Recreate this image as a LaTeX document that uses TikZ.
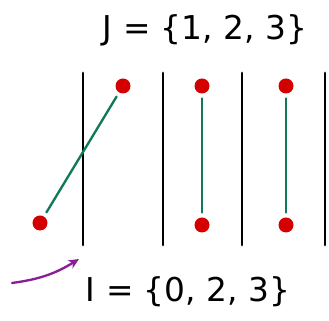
\documentclass[tikz,border=0pt]{standalone}
\usepackage{tikz}
\usetikzlibrary{positioning, arrows.meta}
\usepackage{fontspec}
\setsansfont{DejaVu Sans}
\definecolor{dotred}{HTML}{D40000}
\definecolor{linkgreen}{HTML}{107A58}
\definecolor{markpurple}{HTML}{8A1E96}

\begin{document}
\begin{tikzpicture}[
      x=0.03cm, y=-0.03cm,
      every node/.style={font=\sffamily\fontsize{28}{33}\selectfont},
      divider/.style={line width=2.5pt, line cap=round},
      dot/.style={circle, fill=dotred, inner sep=0pt, minimum size=0.45cm},
      link/.style={line width=2pt, linkgreen, line cap=round, shorten <=4pt, shorten >=4pt},
      >={Stealth[length=9pt, width=8pt]},
    ]
    \useasboundingbox (0,0) rectangle (329,321);

    % set labels
    \node (setJ) at (205, 30) {J = \{1, 2, 3\}};
    \node (setI) at (188, 292) {I = \{0, 2, 3\}};

    % dividers
    \foreach \x in {83, 163, 242, 325}
      \draw[divider] (\x, 73) -- (\x, 245);

    % points
    \node[dot] (t1) at (123, 86) {};
    \node[dot] (b1) at (40, 223) {};
    \node[dot] (t2) at (202, 86) {};
    \node[dot] (b2) at (202, 225) {};
    \node[dot] (t3) at (286, 86) {};
    \node[dot] (b3) at (286, 225) {};

    \draw[link] (t1) -- (b1);
    \draw[link] (t2) -- (b2);
    \draw[link] (t3) -- (b3);

    % marker
    \coordinate (m0) at (12, 283);
    \coordinate (m1) at (79, 259);
    \draw[->, markpurple, line width=2pt, line cap=round] (m0) to[bend right=12] (m1);
  \end{tikzpicture}
\end{document}
